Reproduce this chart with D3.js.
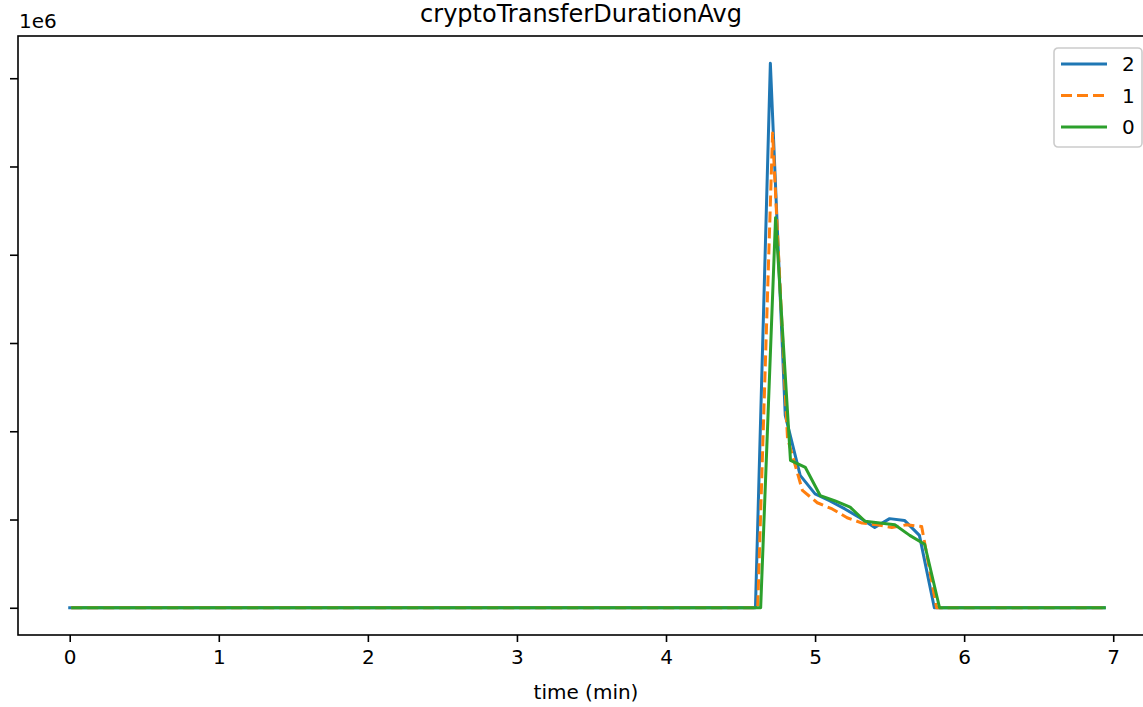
<!DOCTYPE html>
<html>
<head>
<meta charset="utf-8">
<script src="https://cdn.jsdelivr.net/npm/d3@7"></script>
<style>
  html, body { margin: 0; padding: 0; background: #fff; }
  svg { display: block; font-family: "DejaVu Sans", sans-serif; }
</style>
</head>
<body>
<svg id="chart" width="1143" height="707"></svg>
<script>
// ---- data (values in units of 1e6) ----
const seriesNames = ["2", "1", "0"];
const seriesColors = ["#1f77b4", "#ff7f0e", "#2ca02c"];

const time2 = [0, 4.6, 4.7, 4.8, 4.9, 5.0, 5.1, 5.2, 5.3, 5.4, 5.5, 5.6, 5.7, 5.8, 6.94];
const value2 = [0, 0, 6.17, 2.18, 1.50, 1.29, 1.21, 1.12, 1.02, 0.91, 1.01, 0.99, 0.82, 0, 0];

const time1 = [0.01, 4.615, 4.715, 4.815, 4.915, 5.015, 5.115, 5.215, 5.315, 5.415, 5.515, 5.615, 5.715, 5.815, 6.935];
const value1 = [0, 0, 5.38, 1.92, 1.33, 1.19, 1.12, 1.02, 0.96, 0.94, 0.91, 0.94, 0.92, 0, 0];

const time0 = [0.02, 4.635, 4.735, 4.835, 4.935, 5.035, 5.135, 5.235, 5.335, 5.435, 5.535, 5.635, 5.735, 5.835, 6.94];
const value0 = [0, 0, 4.42, 1.67, 1.59, 1.27, 1.21, 1.14, 0.98, 0.96, 0.94, 0.82, 0.72, 0, 0];

const xTicks = [0, 1, 2, 3, 4, 5, 6, 7];
const yTicks = [0, 1, 2, 3, 4, 5, 6];

const titleText = "cryptoTransferDurationAvg";
const xLabel = "time (min)";
const yOffsetText = "1e6";

// ---- layout ----
const svg = d3.select("#chart");
const plot = { left: 18, right: 1156, top: 36, bottom: 635 };

const series = [
  { name: seriesNames[0], color: seriesColors[0], t: time2, v: value2, dash: null },
  { name: seriesNames[1], color: seriesColors[1], t: time1, v: value1, dash: "11,5" },
  { name: seriesNames[2], color: seriesColors[2], t: time0, v: value0, dash: null }
];

const allT = series.flatMap(s => s.t);
const allV = series.flatMap(s => s.v);
const [tMin, tMax] = d3.extent(allT);
const [vMin, vMax] = d3.extent(allV);
const tPad = (tMax - tMin) * 0.05, vPad = (vMax - vMin) * 0.05;

const x = d3.scaleLinear().domain([tMin - tPad, tMax + tPad]).range([plot.left, plot.right]);
const y = d3.scaleLinear().domain([vMin - vPad, vMax + vPad]).range([plot.bottom, plot.top]);

const clip = svg.append("defs").append("clipPath").attr("id", "clip")
  .append("rect").attr("x", plot.left).attr("y", plot.top)
  .attr("width", plot.right - plot.left).attr("height", plot.bottom - plot.top);

// lines
const line = d3.line().x(d => x(d[0])).y(d => y(d[1]));
const g = svg.append("g").attr("clip-path", "url(#clip)");
series.forEach(s => {
  const pts = s.t.map((t, i) => [t, s.v[i]]);
  g.append("path")
    .attr("d", line(pts))
    .attr("fill", "none")
    .attr("stroke", s.color)
    .attr("stroke-width", 3)
    .attr("stroke-linejoin", "round")
    .attr("stroke-linecap", s.dash ? "butt" : "square")
    .attr("stroke-dasharray", s.dash);
});

// axes
const xAxis = d3.axisBottom(x).tickValues(xTicks).tickSize(7).tickPadding(8).tickFormat(d3.format("d"));
const gx = svg.append("g").attr("transform", `translate(0,${plot.bottom})`).call(xAxis);
gx.select(".domain").remove();
gx.selectAll(".tick line").attr("stroke", "#000").attr("stroke-width", 1.6);
gx.selectAll(".tick text").attr("font-size", 20).attr("fill", "#000").attr("font-family", "DejaVu Sans");

const yAxis = d3.axisLeft(y).tickValues(yTicks).tickSize(8).tickFormat(() => "");
const gy = svg.append("g").attr("transform", `translate(${plot.left},0)`).call(yAxis);
gy.select(".domain").remove();
gy.selectAll(".tick line").attr("stroke", "#000").attr("stroke-width", 1.6);

// spines
svg.append("rect")
  .attr("x", plot.left).attr("y", plot.top)
  .attr("width", plot.right - plot.left).attr("height", plot.bottom - plot.top)
  .attr("fill", "none").attr("stroke", "#000").attr("stroke-width", 1.6);

// texts
svg.append("text").attr("x", (plot.left + plot.right) / 2 - 6).attr("y", 22)
  .attr("text-anchor", "middle").attr("font-size", 24).text(titleText);
svg.append("text").attr("x", 586).attr("y", 699)
  .attr("text-anchor", "middle").attr("font-size", 20).text(xLabel);
svg.append("text").attr("x", 19).attr("y", 28)
  .attr("font-size", 20).text(yOffsetText);

// legend
const lg = svg.append("g").attr("transform", "translate(1054,48)");
lg.append("rect").attr("x", 0).attr("y", 0).attr("width", 88).attr("height", 99)
  .attr("rx", 4).attr("fill", "#fff").attr("fill-opacity", 0.8)
  .attr("stroke", "#cccccc").attr("stroke-width", 1.6);
series.forEach((s, i) => {
  const yy = 16 + i * 31.5;
  lg.append("line").attr("x1", 7).attr("x2", 53).attr("y1", yy).attr("y2", yy)
    .attr("stroke", s.color).attr("stroke-width", 3)
    .attr("stroke-dasharray", s.dash);
  lg.append("text").attr("x", 68).attr("y", yy + 7).attr("font-size", 20).text(s.name);
});
</script>
</body>
</html>
